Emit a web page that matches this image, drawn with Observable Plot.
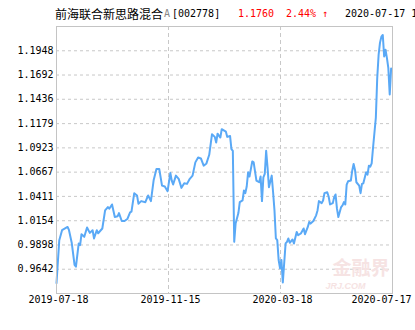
<!DOCTYPE html>
<html><head><meta charset="utf-8">
<script src="https://cdn.jsdelivr.net/npm/d3@7"></script>
<script src="https://cdn.jsdelivr.net/npm/@observablehq/plot@0.6"></script>
<style>
body{margin:0;background:#fff;width:415px;height:330px;overflow:hidden}
#title{position:relative;height:22px;width:415px;overflow:hidden;white-space:nowrap}
#title span{position:absolute;top:8px;line-height:12px;font-size:12px}
.mono{font-family:"DejaVu Sans Mono",monospace;font-size:10px !important}
</style></head><body>
<div id="title">
<span style="left:55px;font-family:'Noto Sans CJK SC'">前海联合新思路混合</span>
<span class="mono" style="left:164px;color:#888">A</span>
<span class="mono" style="left:172px">[002778]</span>
<span class="mono" style="left:238px;color:#f00">1.1760</span>
<span class="mono" style="left:286px;color:#f00">2.44% ↑</span>
<span class="mono" style="left:345px">2020-07-17 1</span>
</div>
<div id="chart"></div>
<script>
const dayIndex = [0,2,4,8,9,11,13,14,16,17,18,20,22,24,26,27,29,30,33,35,37,38,40,42,44,45,47,49,51,53,54,56,58,59,61,64,66,68,70,72,74,76,78,80,82,83,84,86,88,90,92,94,96,98,100,102,104,106,108,110,112,114,115,116,118,119,122,123,125,126,127,128,129,131,132,134,135,136,137,138,139,141,142,144,146,147,148,149,150,151,152,153,155,156,157,158,159,160,161,162,163,165,166,167,168,170,171,173,174,176,178,179,181,182,183,185,187,188,189,191,192,193,195,196,197,199,200,201,202,203,205,206,207,208,209,210,212,213,214,215,216,218,219,220,221,223,224,225,226,227,228,230,231,232,233,234,235,236,237,238,239,240,241];
const nav = [0.9495,0.9949,1.0054,1.0088,1.0054,0.9918,0.9687,0.9669,0.9914,0.9897,1.0012,0.9984,1.0082,1.0026,1.0054,0.9967,1.0054,1.0022,1.0072,1.0263,1.0298,1.0281,1.0326,1.0193,1.0201,1.0235,1.0151,1.0151,1.0172,1.0242,1.0250,1.0445,1.0421,1.0334,1.0361,1.0350,1.0421,1.0361,1.0585,1.0700,1.0700,1.0525,1.0515,1.0466,1.0658,1.0578,1.0536,1.0630,1.0596,1.0501,1.0549,1.0543,1.0596,1.0630,1.0770,1.0822,1.0811,1.0735,1.0759,1.0850,1.1067,1.1039,1.0979,1.1073,1.1032,1.1120,1.1094,1.1039,1.1049,1.0910,1.0892,0.9931,1.0124,1.0235,1.0350,1.0368,1.0473,1.0445,1.0515,1.0665,1.0620,1.0780,1.0770,1.0578,1.0560,1.0620,1.0361,1.0612,1.0648,1.0892,1.0717,1.0508,1.0630,1.0455,1.0263,0.9967,0.9949,0.9739,0.9652,0.9739,0.9502,0.9914,0.9931,0.9967,0.9921,0.9956,0.9914,1.0036,1.0001,1.0019,1.0072,1.0012,1.0088,1.0141,1.0124,1.0151,1.0211,1.0263,1.0361,1.0340,1.0368,1.0445,1.0455,1.0410,1.0326,1.0340,1.0403,1.0431,1.0281,1.0193,1.0298,1.0316,1.0350,1.0326,1.0536,1.0570,1.0578,1.0683,1.0753,1.0690,1.0560,1.0525,1.0445,1.0543,1.0549,1.0665,1.0641,1.0735,1.0725,1.0759,1.0927,1.1241,1.1660,1.1906,1.2034,1.2097,1.2115,1.1888,1.1958,1.1870,1.1765,1.1486,1.1760];
const yTicks = [0.9642,0.9898,1.0154,1.0411,1.0667,1.0923,1.1179,1.1436,1.1692,1.1948];
const yRange = [0.93858,1.22042];
const xLabels = ["2019-07-18","2019-11-15","2020-03-18","2020-07-17"];
const xLabelPos = [0,80.67,161.33,242];
const lastDay = 242;

const data = dayIndex.map((d,k)=>({i:d, v:nav[k]}));
const labels = xLabels.map((t,k)=>({t, x:xLabelPos[k]}));

const chart = Plot.plot({
  width: 415, height: 308,
  marginTop: 4, marginBottom: 37, marginLeft: 56, marginRight: 23,
  x: {domain: [0, lastDay], axis: null},
  y: {domain: yRange, axis: null},
  style: {fontFamily: "'DejaVu Sans Mono', monospace", fontSize: "10px", color: "#000", background: "#fff", overflow: "visible"},
  marks: [
    Plot.ruleY(yTicks, {stroke: "#c8c8c8", strokeDasharray: "3,3"}),
    Plot.ruleX(xLabelPos.slice(1,3), {stroke: "#c8c8c8", strokeDasharray: "4,3"}),
    Plot.text(["金融界"], {frameAnchor: "bottom-right", textAnchor: "end", dx: -3, dy: -19, fontSize: 19, fontWeight: "bold", fill: "#f6e3e3", fontFamily: "Noto Sans CJK SC"}),
    Plot.text(["JRJ.COM"], {frameAnchor: "bottom-right", textAnchor: "end", dx: -27, dy: -5, fontSize: 9, fontStyle: "italic", fontWeight: "bold", fill: "#f6e3e3", fontFamily: "Liberation Sans"}),
    Plot.line(data, {x: "i", y: "v", stroke: "#5aa9f6", strokeWidth: 2, curve: "linear"}),
    Plot.frame({stroke: "#c4c4c4"}),
    Plot.axisY(yTicks, {label: null, tickSize: 0, tickPadding: 3, tickFormat: d => d.toFixed(4), fontSize: 10}),
    Plot.text(labels.slice(0,3), {x: "x", text: "t", frameAnchor: "bottom", dy: 9, dx: 2, fontSize: 10}),
    Plot.text(labels.slice(3), {x: "x", text: "t", frameAnchor: "bottom", dy: 9, dx: -11, fontSize: 10})
  ]
});
document.getElementById("chart").appendChild(chart);
</script>
</body></html>
